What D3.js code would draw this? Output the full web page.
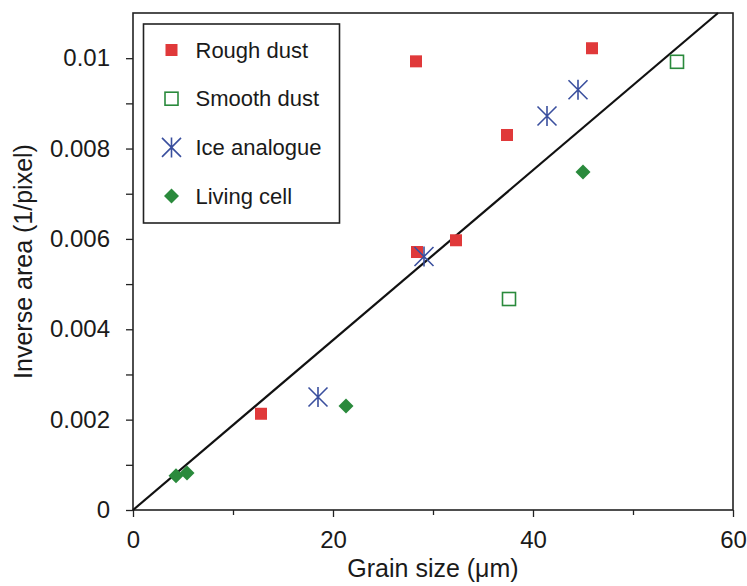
<!DOCTYPE html>
<html>
<head>
<meta charset="utf-8">
<script src="https://cdn.jsdelivr.net/npm/d3@7"></script>
<style>
  body { margin: 0; background: #fff; }
  svg { font-family: "Liberation Sans", Arial, sans-serif; }
</style>
</head>
<body>
<svg id="chart" width="747" height="586"></svg>
<script>
// grain size (um) vs inverse area (1/pixel)
const roughDust = [[12.8, 0.00213], [28.3, 0.00993], [45.9, 0.01022], [37.4, 0.0083], [32.3, 0.00597], [28.4, 0.00571]];
const smoothDust = [[54.4, 0.00992], [37.6, 0.00467]];
const iceAnalogue = [[44.5, 0.0093], [41.4, 0.00872], [29.1, 0.00561], [18.5, 0.0025]];
const livingCell = [[45.0, 0.00748], [21.3, 0.0023], [4.3, 0.00076], [5.4, 0.00082]];
const fitLine = [[0, 0], [58.5, 0.011]];

const xTicks = [0, 20, 40, 60];
const xMinor = [10, 30, 50];
const yTicks = [0, 0.002, 0.004, 0.006, 0.008, 0.01];
const yMinor = [0.001, 0.003, 0.005, 0.007, 0.009];
const seriesNames = ["Rough dust", "Smooth dust", "Ice analogue", "Living cell"];

const red = "#e0393a", green = "#2a8a3c", blue = "#3a4f9e";

const margin = {top: 13, right: 14, bottom: 76, left: 133};
const width = 747 - margin.left - margin.right;
const height = 586 - margin.top - margin.bottom;

const svg = d3.select("#chart");
const g = svg.append("g")
    .attr("transform", "translate(" + margin.left + "," + margin.top + ")");

const x = d3.scaleLinear().domain([0, 60]).range([0, width]);
const y = d3.scaleLinear().domain([0, 0.011]).range([height, 0]);

// axes
g.append("g")
    .attr("transform", "translate(0," + height + ")")
    .call(d3.axisBottom(x).tickValues(xTicks).tickFormat(d3.format("d")).tickSize(7).tickSizeOuter(0).tickPadding(14))
    .call(a => a.select(".domain").remove());
g.append("g")
    .attr("transform", "translate(0," + height + ")")
    .call(d3.axisBottom(x).tickValues(xMinor).tickFormat("").tickSize(5).tickSizeOuter(0))
    .call(a => a.select(".domain").remove());
g.append("g")
    .call(d3.axisLeft(y).tickValues(yTicks).tickFormat(d => d === 0 ? "0" : d3.format("")(+d.toFixed(3))).tickSize(7).tickSizeOuter(0).tickPadding(16))
    .call(a => a.select(".domain").remove());
g.append("g")
    .call(d3.axisLeft(y).tickValues(yMinor).tickFormat("").tickSize(7).tickSizeOuter(0))
    .call(a => a.select(".domain").remove());

g.selectAll(".tick line").attr("stroke", "#222").attr("stroke-width", 1.3);
g.selectAll(".tick text").attr("font-size", 24).attr("fill", "#1a1a1a")
    .attr("font-family", "Liberation Sans, Arial, sans-serif");

// frame
g.append("rect")
    .attr("width", width).attr("height", height)
    .attr("fill", "none").attr("stroke", "#222").attr("stroke-width", 1.6);

// fit line
g.append("path")
    .datum(fitLine)
    .attr("d", d3.line().x(d => x(d[0])).y(d => y(d[1])))
    .attr("stroke", "#111").attr("stroke-width", 2.2).attr("fill", "none");

// marker drawers
function roughMark(sel) {
  sel.append("rect").attr("x", -6).attr("y", -6).attr("width", 12).attr("height", 12).attr("fill", red);
}
function smoothMark(sel) {
  sel.append("rect").attr("x", -6.5).attr("y", -6.5).attr("width", 13).attr("height", 13)
     .attr("fill", "none").attr("stroke", green).attr("stroke-width", 1.6);
}
function iceMark(sel) {
  sel.append("path").attr("d", "M0,-10V10M-9.5,-9.5L9.5,9.5M-9.5,9.5L9.5,-9.5")
     .attr("stroke", blue).attr("stroke-width", 1.6).attr("fill", "none");
}
function cellMark(sel) {
  sel.append("path").attr("d", "M0,-7.5L7.5,0L0,7.5L-7.5,0Z").attr("fill", green);
}
const marks = [roughMark, smoothMark, iceMark, cellMark];
const series = [roughDust, smoothDust, iceAnalogue, livingCell];

series.forEach((data, i) => {
  g.append("g").selectAll("g")
    .data(data)
    .join("g")
    .attr("transform", d => "translate(" + x(d[0]) + "," + y(d[1]) + ")")
    .call(marks[i]);
});

// legend
const legend = svg.append("g").attr("transform", "translate(143.5,24)");
legend.append("rect").attr("width", 196).attr("height", 199)
    .attr("fill", "#fff").attr("stroke", "#222").attr("stroke-width", 1.6);
seriesNames.forEach((name, i) => {
  const row = legend.append("g").attr("transform", "translate(28," + (26 + i * 48.7) + ")");
  row.call(marks[i]);
  row.append("text").attr("x", 24).attr("dy", "0.35em")
      .attr("font-size", 22).attr("fill", "#1a1a1a").text(name);
});

// axis titles
svg.append("text")
    .attr("x", margin.left + width / 2).attr("y", 577)
    .attr("text-anchor", "middle").attr("font-size", 25).attr("fill", "#1a1a1a")
    .text("Grain size (μm)");
svg.append("text")
    .attr("transform", "translate(32," + (margin.top + height / 2) + ") rotate(-90)")
    .attr("text-anchor", "middle").attr("font-size", 25).attr("fill", "#1a1a1a")
    .text("Inverse area (1/pixel)");
</script>
</body>
</html>
